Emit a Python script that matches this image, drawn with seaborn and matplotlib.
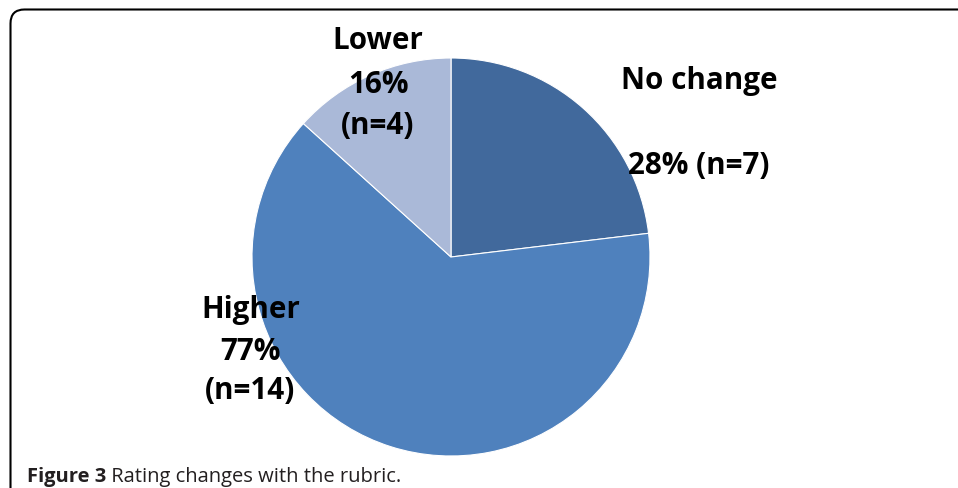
import matplotlib
matplotlib.use("Agg")
import matplotlib.pyplot as plt
import seaborn as sns
from matplotlib.patches import FancyBboxPatch

# ---- data ----
categories = ["No change", "Higher", "Lower"]
slice_values = [23.1, 63.6, 13.3]          # drawn wedge sizes
label_pct = ["28%", "77%", "16%"]          # printed labels
label_n = ["(n=7)", "(n=14)", "(n=4)"]
colors = ["#41699C", "#4F81BD", "#AAB9D8"]
caption_bold = "Figure 3"
caption_rest = " Rating changes with the rubric."

sns.set_theme(style="white")
plt.rcParams["font.family"] = ["Open Sans", "DejaVu Sans"]

W, H = 958, 489
fig = plt.figure(figsize=(W / 100, H / 100), dpi=100)
ax = fig.add_axes([0, 0, 1, 1])

def py(y):
    return H - y

cx, cy, r = 451, 258, 199
ax.pie(slice_values, colors=colors, startangle=90, counterclock=False,
       center=(cx, py(cy)), radius=r,
       wedgeprops=dict(edgecolor="white", linewidth=0.8))
ax.set_xlim(0, W)
ax.set_ylim(0, H)
ax.set_aspect("equal", adjustable="box")
ax.axis("off")

fs = 21.3
kw = dict(fontsize=fs, fontweight="bold", ha="center", va="baseline", color="black")
# No change
ax.text(699, py(89), categories[0], **kw)
ax.text(699, py(174), f"{label_pct[0]} {label_n[0]}", **kw)
# Higher
ax.text(251, py(318), categories[1], **kw)
ax.text(250, py(360), label_pct[1], **kw)
ax.text(250, py(399), label_n[1], **kw)
# Lower
ax.text(378, py(49), categories[2], **kw)
ax.text(378, py(93), label_pct[2], **kw)
ax.text(378, py(134), label_n[2], **kw)

# frame with rounded corner
frame = FancyBboxPatch((10.5, -300), 1200, py(10.5) + 300,
                       boxstyle="round,pad=0,rounding_size=14",
                       fill=False, edgecolor="black", linewidth=1.5,
                       clip_on=True)
ax.add_patch(frame)
frame.set_clip_path(ax.patch)

# caption
cap_fs = 14.5
t = ax.text(27, py(482), caption_bold, fontsize=cap_fs, fontweight="bold",
            ha="left", va="baseline", color="#231F20")
fig.canvas.draw()
bb = t.get_window_extent()
ax.text(bb.x1, py(482), caption_rest, fontsize=cap_fs, ha="left", va="baseline",
        color="#231F20")

fig.savefig("out.png", dpi=100)
